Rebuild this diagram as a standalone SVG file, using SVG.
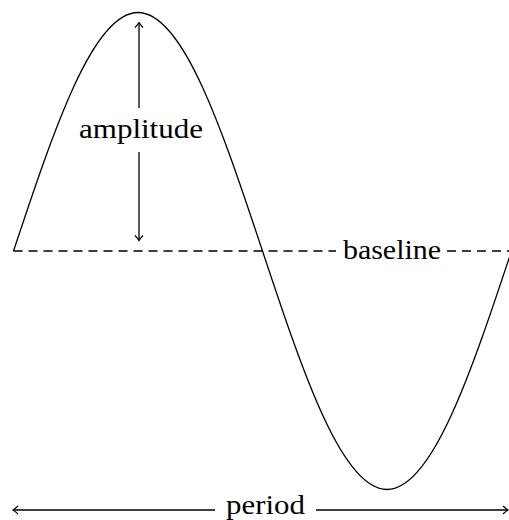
<svg xmlns="http://www.w3.org/2000/svg" width="509" height="520" viewBox="0 0 509 520">
<style>
.ln{fill:none;stroke:#000;stroke-width:1.3}
.dash{fill:none;stroke:#000;stroke-width:1.3;stroke-dasharray:9 6}
.lbl{font-family:"Liberation Serif","Times New Roman",serif;font-size:28px;fill:#000;text-anchor:middle}
</style>
<defs>
<marker id="tip" viewBox="-6 -5 7 10" markerWidth="7" markerHeight="10" refX="0" refY="0" orient="auto-start-reverse" markerUnits="userSpaceOnUse">
<path d="M-5,-4 Q-1.5,-0.8 0,0 Q-1.5,0.8 -5,4" fill="none" stroke="#000" stroke-width="1.2"/>
</marker>
</defs>
<rect width="509" height="520" fill="#fff"/>
<g id="connectors">
<path id="wave" class="ln" d="M13.5,251 C54.1,128.82 92.94,12.5 138,12.5 C183.06,12.5 221.9,128.82 262.5,251 C303.1,373.18 341.94,489.5 387,489.5 C432.06,489.5 470.9,373.18 511.5,251"/>
<path class="dash" d="M13.5,251 H336"/>
<path class="dash" d="M447,251 H509"/>
<path class="ln" d="M139,108 V22.5" marker-end="url(#tip)"/>
<path class="ln" d="M139,152 V240.5" marker-end="url(#tip)"/>
<path class="ln" d="M215,510 H13" marker-end="url(#tip)"/>
<path class="ln" d="M316,510 H508" marker-end="url(#tip)"/>
</g>
<g id="amplitude"><text class="lbl" x="141" y="138" textLength="124" lengthAdjust="spacingAndGlyphs">amplitude</text></g>
<g id="baseline"><text class="lbl" x="392" y="259" textLength="98" lengthAdjust="spacingAndGlyphs">baseline</text></g>
<g id="period"><text class="lbl" x="265.5" y="514" textLength="79" lengthAdjust="spacingAndGlyphs">period</text></g>
</svg>
